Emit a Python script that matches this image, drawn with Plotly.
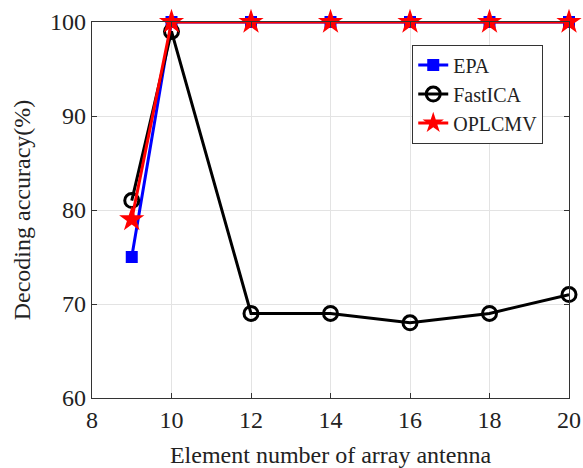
import plotly.graph_objects as go

x_vals = [9, 10, 12, 14, 16, 18, 20]
epa = [75, 100, 100, 100, 100, 100, 100]
fastica = [81, 99, 69, 69, 68, 69, 71]
oplcmv = [79, 100, 100, 100, 100, 100, 100]
x_ticks = [8, 10, 12, 14, 16, 18, 20]
y_ticks = [60, 70, 80, 90, 100]

font = "Liberation Serif, Times New Roman, serif"

fig = go.Figure()
fig.add_trace(go.Scatter(x=x_vals, y=epa, name="EPA", mode="lines+markers",
                         line=dict(color="#0000ff", width=3),
                         marker=dict(symbol="square", size=12, color="#0000ff"),
                         cliponaxis=False))
fig.add_trace(go.Scatter(x=x_vals, y=fastica, name="FastICA", mode="lines+markers",
                         line=dict(color="#000000", width=3),
                         marker=dict(symbol="circle-open", size=14, color="#000000",
                                     line=dict(width=3, color="#000000")),
                         cliponaxis=False))
fig.add_trace(go.Scatter(x=x_vals, y=oplcmv, name="OPLCMV", mode="lines+markers",
                         line=dict(color="#ff0000", width=3),
                         marker=dict(symbol="star", size=19, color="#ff0000"),
                         cliponaxis=False))

axis_common = dict(showline=True, linecolor="#333333", linewidth=1.2, mirror="ticks",
                   ticks="inside", ticklen=5, tickcolor="#333333",
                   showgrid=True, gridcolor="#e3e3e3", gridwidth=1, zeroline=False,
                   automargin=False,
                   tickfont=dict(family=font, size=24, color="#222222"))

fig.update_layout(
    width=583, height=468,
    margin=dict(l=92, r=14, t=22, b=70),
    paper_bgcolor="white", plot_bgcolor="white",
    font=dict(family=font, color="#222222"),
    xaxis=dict(range=[8, 20], tickvals=x_ticks,
               title=dict(text="Element number of array antenna", font=dict(family=font, size=24), standoff=16),
               **axis_common),
    yaxis=dict(range=[60, 100], tickvals=y_ticks,
               title=dict(text="Decoding accuracy(%)", font=dict(family=font, size=24), standoff=12),
               **axis_common),
    legend=dict(x=0.946, y=0.94, xanchor="right", yanchor="top",
                bordercolor="#333333", borderwidth=1, bgcolor="white",
                font=dict(family=font, size=20, color="#222222"),
                tracegroupgap=0),
    showlegend=True,
)

fig.write_html("out.html",
               config={"displayModeBar": False},
               post_script="document.body.style.margin='0';document.body.style.overflow='hidden';")
